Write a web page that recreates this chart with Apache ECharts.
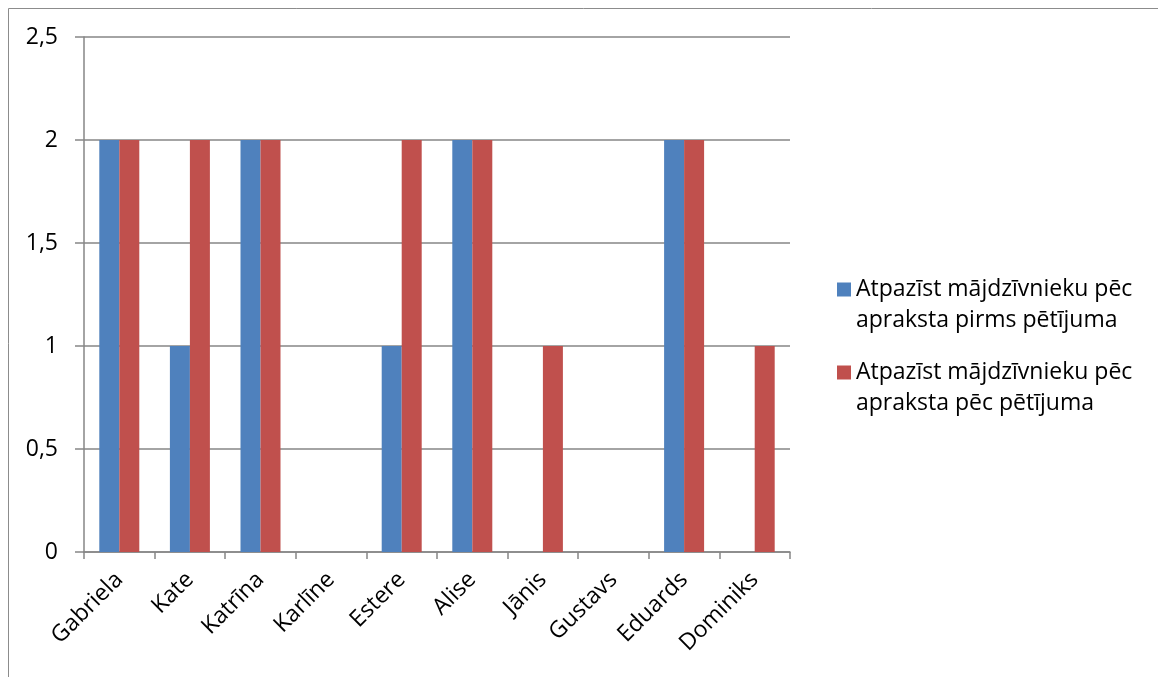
<!DOCTYPE html>
<html><head><meta charset="utf-8">
<script src="https://cdn.jsdelivr.net/npm/echarts@6/dist/echarts.min.js"></script>
<style>html,body{margin:0;padding:0;background:#fff}#c{width:1158px;height:677px}</style>
</head><body><div id="c"></div>
<script>
const categories = ['Gabriela','Kate','Katrīna','Karlīne','Estere','Alise','Jānis','Gustavs','Eduards','Dominiks'];
const seriesNames = ['Atpazīst mājdzīvnieku pēc apraksta pirms pētījuma','Atpazīst mājdzīvnieku pēc apraksta pēc pētījuma'];
const before = [2,1,2,0,1,2,0,0,2,0];
const after = [2,2,2,0,2,2,1,0,2,1];
const yTicks = {min:0,max:2.5,interval:0.5};
const font = '"Open Sans", sans-serif';
const chart = echarts.init(document.getElementById('c'));
chart.setOption({
  animation:false,
  graphic:[{type:'rect',shape:{x:8.5,y:8.5,width:1200,height:700},style:{fill:'none',stroke:'#8c8c8c',lineWidth:1},silent:true}],
  grid:{left:84,right:368,top:37,bottom:125,containLabel:false},
  legend:{
    orient:'vertical',left:832,top:238,itemWidth:14,itemHeight:14,itemGap:-10,
    icon:'rect',
    textStyle:{fontFamily:font,fontSize:23,color:'#000',lineHeight:31},
    formatter:function(n){return ' \n' + n.replace(' pēc apraksta',' pēc\napraksta');},
    data:seriesNames
  },
  xAxis:{type:'category',data:categories,
    axisLine:{lineStyle:{color:'#868686',width:1.5}},
    axisTick:{show:true,alignWithLabel:false,length:7,lineStyle:{color:'#868686',width:1.5}},
    axisLabel:{rotate:45,interval:0,fontFamily:font,fontSize:23,color:'#000',margin:24}
  },
  yAxis:{type:'value',min:yTicks.min,max:yTicks.max,interval:yTicks.interval,
    axisLine:{show:true,lineStyle:{color:'#868686',width:1.5}},
    axisTick:{show:true,length:9,lineStyle:{color:'#868686',width:1.5}},
    splitLine:{lineStyle:{color:'#868686',width:1.5}},
    axisLabel:{fontFamily:font,fontSize:23,color:'#000',margin:26,formatter:function(v){return String(v).replace('.',',');}}
  },
  series:[
    {name:seriesNames[0],type:'bar',data:before,barWidth:20,barGap:'0%',itemStyle:{color:'#4f81bd'}},
    {name:seriesNames[1],type:'bar',data:after,barWidth:20,barGap:'0%',itemStyle:{color:'#c0504d'}}
  ]
});
</script></body></html>
